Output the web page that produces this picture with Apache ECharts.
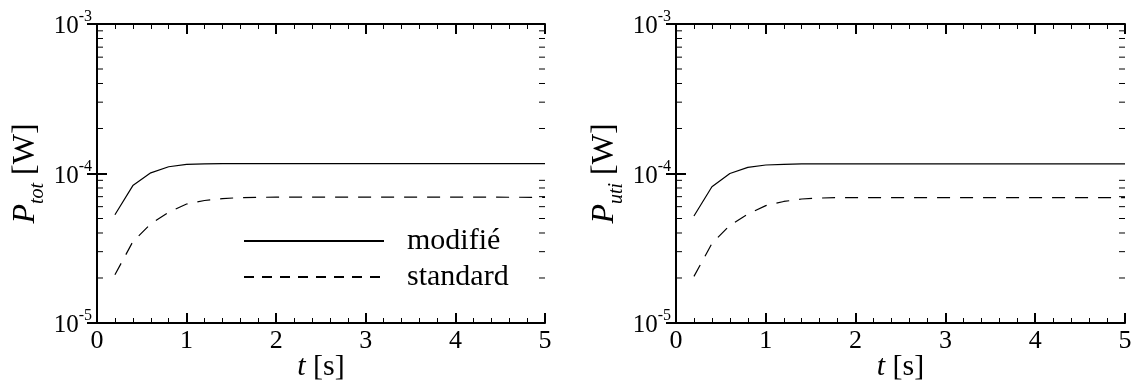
<!DOCTYPE html>
<html>
<head>
<meta charset="utf-8">
<script src="https://cdn.jsdelivr.net/npm/echarts@6/dist/echarts.min.js"></script>
<style>
html,body{margin:0;padding:0;background:#fff;}
#c{width:1135px;height:380px;}
</style>
</head>
<body>
<div id="c"></div>
<script>
// ---- data ----
const tValues = [0.2, 0.4, 0.6, 0.8, 1.0, 1.2, 1.4, 1.6, 1.8, 2.0, 3.0, 4.0, 5.0];
const totModifie  = [5.3e-5, 8.3e-5, 1.01e-4, 1.11e-4, 1.15e-4, 1.16e-4, 1.165e-4, 1.165e-4, 1.165e-4, 1.165e-4, 1.165e-4, 1.165e-4, 1.165e-4];
const totStandard = [2.1e-5, 3.5e-5, 4.6e-5, 5.5e-5, 6.25e-5, 6.6e-5, 6.8e-5, 6.9e-5, 6.93e-5, 6.95e-5, 6.95e-5, 6.95e-5, 6.93e-5];
const utiModifie  = [5.2e-5, 8.15e-5, 1.0e-4, 1.1e-4, 1.14e-4, 1.15e-4, 1.16e-4, 1.16e-4, 1.16e-4, 1.16e-4, 1.16e-4, 1.16e-4, 1.16e-4];
const utiStandard = [2.05e-5, 3.4e-5, 4.5e-5, 5.35e-5, 6.1e-5, 6.5e-5, 6.75e-5, 6.85e-5, 6.9e-5, 6.9e-5, 6.9e-5, 6.9e-5, 6.9e-5];
const seriesNames = ['modifié', 'standard'];
const xMin = 0, xMax = 5, xStep = 1;
const yMin = 1e-5, yMax = 1e-3;
const yMinorTicks = [2e-5, 3e-5, 4e-5, 5e-5, 6e-5, 7e-5, 8e-5, 9e-5, 2e-4, 3e-4, 4e-4, 5e-4, 6e-4, 7e-4, 8e-4, 9e-4];
const yTitles = [['P', 'tot'], ['P', 'uti']];
const xTitle = ['t', ' [s]'];

// ---- chart ----
const FONT = 'Liberation Serif';
const chart = echarts.init(document.getElementById('c'), null, {renderer: 'canvas'});
const grids = [
  {left: 97, right: 590, top: 24, bottom: 57, outerBoundsMode: 'none', containLabel: false},
  {left: 676, right: 10, top: 24, bottom: 57, outerBoundsMode: 'none', containLabel: false}
];
const pair = (a, b) => a.map((v, i) => [v, b[i]]);
const black = '#000';
const clear = 'rgba(0,0,0,0)';

const xAxes = [], yAxes = [], series = [];
grids.forEach((g, gi) => {
  const baseX = {
    type: 'value', gridIndex: gi, min: xMin, max: xMax, interval: xStep,
    axisLine: {lineStyle: {color: black, width: 2}},
    axisTick: {inside: true, length: 10, lineStyle: {color: black, width: 2}},
    minorTick: {show: true, splitNumber: 5, length: 5, lineStyle: {color: black, width: 1}},
    splitLine: {show: false}
  };
  xAxes.push(Object.assign({}, baseX, {
    position: 'bottom',
    axisLabel: {color: black, fontFamily: FONT, fontSize: 26, margin: 5},
    name: '{i|' + xTitle[0] + '}{n|' + xTitle[1] + '}',
    nameLocation: 'middle', nameGap: 29, nameMoveOverlap: false,
    nameTextStyle: {color: black, rich: {
      i: {fontFamily: FONT, fontSize: 30, fontStyle: 'italic', color: black},
      n: {fontFamily: FONT, fontSize: 30, color: black}
    }}
  }));
  xAxes.push(Object.assign({}, baseX, {position: 'top', axisLabel: {show: false}}));
  const baseY = {
    type: 'log', logBase: 10, gridIndex: gi, min: yMin, max: yMax, splitNumber: 2,
    axisLine: {lineStyle: {color: black, width: 2}},
    axisTick: {inside: true, length: 10, lineStyle: {color: black, width: 2}},
    splitLine: {show: false}
  };
  yAxes.push(Object.assign({}, baseY, {
    position: 'left',
    axisLabel: {
      margin: 5,
      formatter: v => '{b|10}{s|' + Math.round(Math.log10(v)) + '}',
      rich: {
        b: {fontFamily: FONT, fontSize: 25, color: black, verticalAlign: 'bottom', lineHeight: 30},
        s: {fontFamily: FONT, fontSize: 16, color: black, verticalAlign: 'top', lineHeight: 30}
      }
    },
    name: '{i|' + yTitles[gi][0] + '}{sub|' + yTitles[gi][1] + '}{n| [W]}',
    nameLocation: 'middle', nameGap: 55, nameMoveOverlap: false,
    nameTextStyle: {color: black, rich: {
      i: {fontFamily: FONT, fontSize: 32, fontStyle: 'italic', color: black, lineHeight: 36, verticalAlign: 'bottom'},
      sub: {fontFamily: FONT, fontSize: 20, fontStyle: 'italic', color: black, lineHeight: 36, verticalAlign: 'bottom', padding: [0, 0, -6, 0]},
      n: {fontFamily: FONT, fontSize: 32, color: black, lineHeight: 36, verticalAlign: 'bottom'}
    }}
  }));
  yAxes.push(Object.assign({}, baseY, {position: 'right', axisLabel: {show: false}}));

  const data = gi === 0 ? [totModifie, totStandard] : [utiModifie, utiStandard];
  const xi = gi * 2, yi = gi * 2;
  series.push({
    name: seriesNames[0], type: 'line', xAxisIndex: xi, yAxisIndex: yi,
    data: pair(tValues, data[0]), symbol: 'none', silent: true,
    lineStyle: {color: black, width: 1.2, type: 'solid'}, itemStyle: {color: clear}
  });
  series.push({
    name: seriesNames[1], type: 'line', xAxisIndex: xi, yAxisIndex: yi,
    data: pair(tValues, data[1]), symbol: 'none', silent: true,
    lineStyle: {color: black, width: 1.2, type: [13, 10]}, itemStyle: {color: clear}
  });
  // log minor ticks on left and right sides
  series.push({
    name: 'minorTicks' + gi, type: 'custom', xAxisIndex: xi, yAxisIndex: yi,
    silent: true, clip: false,
    data: yMinorTicks.map(v => [xMin, v]),
    renderItem: (params, api) => {
      const v = api.value(1);
      const pl = api.coord([xMin, v]);
      const pr = api.coord([xMax, v]);
      const st = {stroke: black, lineWidth: 1};
      return {type: 'group', children: [
        {type: 'line', shape: {x1: pl[0], y1: pl[1], x2: pl[0] + 6, y2: pl[1]}, style: st},
        {type: 'line', shape: {x1: pr[0], y1: pr[1], x2: pr[0] - 6, y2: pr[1]}, style: st}
      ]};
    }
  });
});

chart.setOption({
  animation: false,
  backgroundColor: '#fff',
  grid: grids,
  xAxis: xAxes,
  yAxis: yAxes,
  legend: {
    data: [
      {name: seriesNames[0]},
      {name: seriesNames[1], lineStyle: {type: [10, 8]}}
    ],
    orient: 'vertical', left: 238, top: 221,
    itemWidth: 140, itemHeight: 14, itemGap: 6,
    selectedMode: false,
    itemStyle: {opacity: 0, color: clear, borderWidth: 0},
    textStyle: {fontFamily: FONT, fontSize: 30, color: black, padding: [0, 0, 0, 18], lineHeight: 30}
  },
  series: series
});
</script>
</body>
</html>
